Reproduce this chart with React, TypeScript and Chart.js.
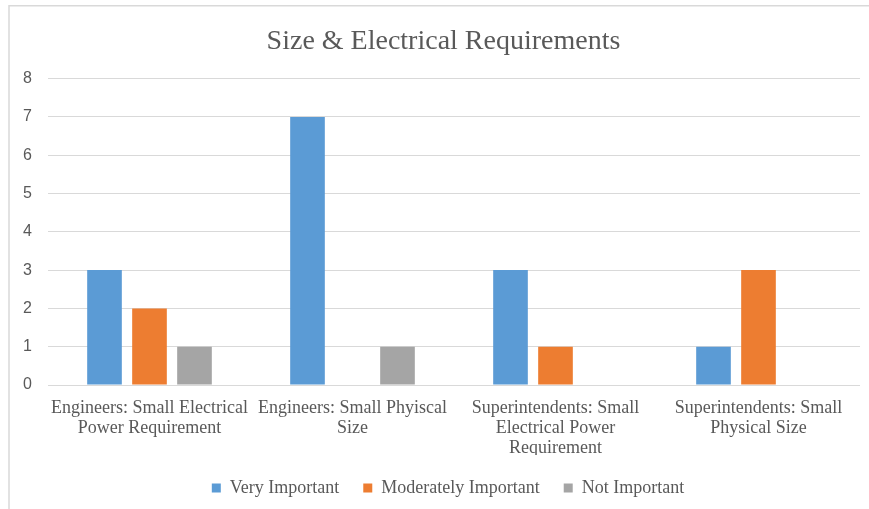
import React, { useEffect, useRef } from "react";
import { Chart, registerables } from "chart.js";

Chart.register(...registerables);

const titleText = "Size & Electrical Requirements";
const categories: string[][] = [
  ["Engineers: Small Electrical", "Power Requirement"],
  ["Engineers: Small Phyiscal", "Size"],
  ["Superintendents: Small", "Electrical Power", "Requirement"],
  ["Superintendents: Small", "Physical Size"],
];
const seriesNames = ["Very Important", "Moderately Important", "Not Important"];
const veryImportant = [3, 7, 3, 1];
const moderatelyImportant = [2, 0, 1, 3];
const notImportant = [1, 1, 0, 0];
const seriesColors = ["#5B9BD5", "#ED7D31", "#A5A5A5"];
const yMin = 0;
const yMax = 8;
const yStep = 1;

const TEXT = "#595959";
const SERIF = "'Liberation Serif', 'Times New Roman', serif";
const SANS = "'Liberation Sans', Arial, sans-serif";

const framePlugin = {
  id: "frame",
  afterLayout(chart: any) {
    if (chart.titleBlock) {
      chart.titleBlock.left += 19;
    }
    if (chart.legend) {
      chart.legend.left += 14;
      chart.legend.right += 14;
    }
  },
  beforeDraw(chart: any) {
    const ctx = chart.ctx;
    ctx.save();
    ctx.strokeStyle = "#D9D9D9";
    ctx.lineWidth = 1.5;
    ctx.beginPath();
    ctx.moveTo(9, chart.height);
    ctx.lineTo(9, 5.8);
    ctx.lineTo(chart.width, 5.8);
    ctx.stroke();
    ctx.restore();
  },
};

export default function App() {
  const ref = useRef<HTMLCanvasElement | null>(null);
  useEffect(() => {
    document.body.style.margin = "0";
    const canvas = ref.current;
    if (!canvas) return;
    const values = [veryImportant, moderatelyImportant, notImportant];
    const chart = new Chart(canvas, {
      type: "bar",
      data: {
        labels: categories,
        datasets: seriesNames.map((name, i) => ({
          label: name,
          data: values[i],
          backgroundColor: seriesColors[i],
          borderWidth: 0,
          categoryPercentage: 0.665,
          barPercentage: 0.77,
        })),
      },
      options: {
        animation: false,
        responsive: false,
        maintainAspectRatio: false,
        layout: { padding: { left: 8, right: 9, top: 10, bottom: 2 } },
        plugins: {
          title: {
            display: true,
            text: titleText,
            color: TEXT,
            font: { family: SERIF, size: 28, weight: "normal" },
            padding: { top: 15, bottom: 20 },
          },
          legend: {
            position: "bottom",
            labels: {
              boxWidth: 9,
              boxHeight: 9,
              padding: 24,
              color: TEXT,
              font: { family: SERIF, size: 18 },
            },
          },
          tooltip: { enabled: false },
        },
        scales: {
          x: {
            afterFit(scale: any) {
              scale.height = scale.height - 16;
            },
            grid: { display: false, drawTicks: false },
            border: { display: false },
            ticks: {
              color: TEXT,
              font: { family: SERIF, size: 18, lineHeight: 20 / 18 },
              padding: 13,
              maxRotation: 0,
              autoSkip: false,
            },
          },
          y: {
            min: yMin,
            max: yMax,
            afterFit(scale: any) {
              scale.width = 40;
            },
            grid: { color: "#D9D9D9", lineWidth: 1, drawTicks: false },
            border: { display: false },
            ticks: {
              stepSize: yStep,
              color: TEXT,
              font: { family: SANS, size: 16 },
              padding: 16,
            },
          },
        },
      },
      plugins: [framePlugin],
    });
    return () => chart.destroy();
  }, []);
  return (
    <div style={{ width: 869, height: 509, position: "relative", background: "#fff" }}>
      <canvas ref={ref} width={869} height={509} style={{ display: "block" }} />
    </div>
  );
}
